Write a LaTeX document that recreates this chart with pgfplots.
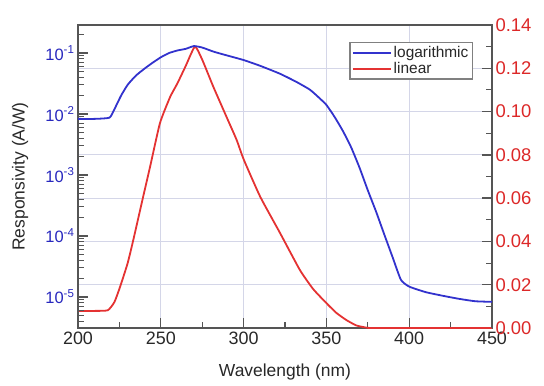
\documentclass[border=0pt]{standalone}
\usepackage{pgfplots}
\pgfplotsset{compat=1.18}
\usepackage{fontspec}
\setmainfont{Liberation Sans}
\definecolor{myblue}{RGB}{50,50,205}
\definecolor{myred}{RGB}{228,50,50}
\definecolor{tblue}{RGB}{40,40,190}
\definecolor{tred}{RGB}{220,40,40}
\definecolor{gridc}{RGB}{212,214,232}
\definecolor{framec}{RGB}{85,85,85}
\definecolor{txt}{RGB}{40,40,40}
\begin{document}
\begin{tikzpicture}
\useasboundingbox (-78bp,-58bp) rectangle (466bp,328bp);
\begin{axis}[
  scale only axis, width=414bp, height=303bp,
  xmin=200, xmax=450, ymin=0, ymax=0.14,
  xtick={200,250,...,450}, minor x tick num=1,
  ytick={0,0.02,...,0.14}, minor y tick num=1,
  xtick pos=left, ytick pos=right, yticklabel pos=right,
  tick align=inside,
  xmajorgrids, ymajorgrids,
  grid style={gridc, line width=0.8bp},
  axis line style={framec, line width=1.3bp},
  major tick style={framec, line width=1.3bp},
  minor tick style={framec, line width=1.1bp},
  major tick length=10bp, minor tick length=6bp,
  /pgf/number format/assume math mode=true,
  yticklabel style={/pgf/number format/fixed, /pgf/number format/fixed zerofill, /pgf/number format/precision=2, font=\fontsize{18.5}{20}\selectfont, text=tred},
  xticklabel style={font=\fontsize{18}{20}\selectfont, text=txt},
  xlabel={Wavelength (nm)},
  xlabel style={font=\fontsize{17.5}{20}\selectfont, text=txt, at={(axis description cs:0.5,0)}, yshift=-44bp, anchor=center},
]
\addplot[myred, line width=1.8bp, smooth, tension=0.3] coordinates {
(200,0.0079) (210,0.0079) (218,0.0082) (222,0.012) (225.4,0.019) (230,0.030) (233.4,0.0407)
(239.3,0.0605) (243.5,0.0744) (249.5,0.0947) (255.6,0.1067) (260,0.113) (265,0.121) (270.6,0.130)
(275,0.124) (281.7,0.1115) (290,0.097) (295.8,0.0869) (300,0.078) (310,0.0607) (322,0.0439)
(334,0.0268) (342,0.018) (350,0.0115) (356,0.007) (362,0.0037) (368,0.0012) (374,0.0002)
(380,0.0) (450,0.0)
};
\end{axis}
\begin{axis}[
  scale only axis, width=414bp, height=303bp,
  xmin=200, xmax=450, ymode=log, ymin=3.1e-6, ymax=0.288,
  hide x axis, ytick pos=left,
  tick align=inside,
  ytick={1e-5,1e-4,1e-3,1e-2,1e-1},
  yticklabels={10\textsuperscript{-5},10\textsuperscript{-4},10\textsuperscript{-3},10\textsuperscript{-2},10\textsuperscript{-1}},
  minor ytick={4e-6,5e-6,6e-6,7e-6,8e-6,9e-6,2e-5,3e-5,4e-5,5e-5,6e-5,7e-5,8e-5,9e-5,2e-4,3e-4,4e-4,5e-4,6e-4,7e-4,8e-4,9e-4,2e-3,3e-3,4e-3,5e-3,6e-3,7e-3,8e-3,9e-3,2e-2,3e-2,4e-2,5e-2,6e-2,7e-2,8e-2,9e-2,2e-1},
  axis line style={framec, line width=1.3bp},
  major tick style={framec, line width=1.3bp},
  minor tick style={framec, line width=1.1bp},
  major tick length=10bp, minor tick length=6bp,
  yticklabel style={font=\fontsize{16.5}{20}\selectfont, text=tblue},
  ylabel={Responsivity (A/W)},
  ylabel style={font=\fontsize{17.5}{20}\selectfont, text=txt, at={(axis description cs:-0.14,0.5)}, anchor=center},
  legend style={at={(axis description cs:1,1)}, anchor=north east, xshift=-19bp, yshift=-17bp, draw=gray, line width=1.2bp, font=\fontsize{15.5}{17}\selectfont, text=txt, inner sep=2bp, row sep=-1bp, cells={anchor=west}},
  legend image code/.code={\draw[#1] (0bp,0bp) -- (38bp,0bp);},
]
\addplot[myblue, line width=1.8bp, smooth, tension=0.3] coordinates {
(200,0.00832) (210,0.00832) (219,0.00871) (222,0.0120) (226,0.0200) (230,0.0302) (235,0.0427)
(240,0.0550) (245,0.0692) (250,0.0851) (255,0.100) (260,0.110) (265,0.117) (270,0.130)
(275,0.123) (282,0.105) (290,0.0912) (300,0.0767) (310,0.0617) (322,0.0457) (332,0.0335)
(340,0.0251) (345,0.0191) (350,0.0141) (355,0.00891) (360,0.00525) (365,0.00282) (370,0.00132)
(375,5.62e-4) (380,2.51e-4) (385,1.05e-4) (390,4.47e-5) (395,1.91e-5) (400,1.48e-5)
(410,1.20e-5) (420,1.05e-5) (430,9.33e-6) (440,8.51e-6) (450,8.32e-6)
};
\addlegendentry{logarithmic}
\addlegendimage{myred, line width=1.8bp}
\addlegendentry{linear}
\end{axis}
\end{tikzpicture}
\end{document}
